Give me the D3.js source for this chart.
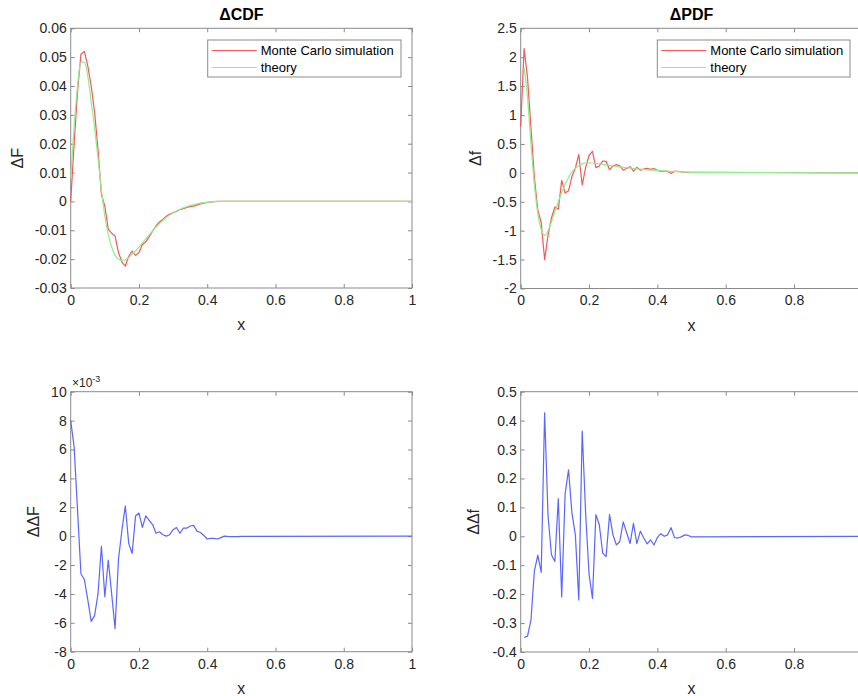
<!DOCTYPE html>
<html>
<head>
<meta charset="utf-8">
<script src="https://cdn.jsdelivr.net/npm/d3@7"></script>
<style>
body { margin: 0; background: #fff; }
svg { display: block; font-family: "Liberation Sans", Arial, Helvetica, sans-serif; }
</style>
</head>
<body>
<svg id="chart" width="858" height="696"></svg>
<script>
// Delta CDF / PDF -- Monte Carlo vs theory, 2x2 panels

// x grid: 0 .. 0.5 in steps of 0.01, then the flat tail out to 1
var xs = [0, 0.01, 0.02, 0.03, 0.04, 0.05, 0.06, 0.07, 0.08, 0.09,
  0.10, 0.11, 0.12, 0.13, 0.14, 0.15, 0.16, 0.17, 0.18, 0.19,
  0.20, 0.21, 0.22, 0.23, 0.24, 0.25, 0.26, 0.27, 0.28, 0.29,
  0.30, 0.31, 0.32, 0.33, 0.34, 0.35, 0.36, 0.37, 0.38, 0.39,
  0.40, 0.41, 0.42, 0.43, 0.44, 0.45, 0.46, 0.47, 0.48, 0.49,
  0.50, 1.0];

var mcCdf = [0, 0.020, 0.038, 0.051, 0.052, 0.047, 0.040, 0.031, 0.018, 0.0024,
  -0.0016, -0.0097, -0.0110, -0.0120, -0.0177, -0.0210, -0.0224, -0.0190, -0.0172, -0.0187,
  -0.0177, -0.0149, -0.0140, -0.0122, -0.0103, -0.0085, -0.0071, -0.0062, -0.0051, -0.0044,
  -0.0039, -0.0035, -0.0028, -0.0025, -0.0021, -0.0018, -0.0016, -0.0013, -0.0009, -0.0006,
  -0.0003, -0.0002, -0.0001, 0, 0, 0, 0, 0, 0, 0,
  0, 0];

var theoryCdf = [0.008, 0.026, 0.040, 0.0483, 0.0483, 0.0435, 0.0345, 0.0255, 0.0150, 0.0040,
  -0.0050, -0.0115, -0.0158, -0.0186, -0.0200, -0.0205, -0.0202, -0.0194, -0.0183, -0.0171,
  -0.0158, -0.0144, -0.0130, -0.0116, -0.0102, -0.0089, -0.0077, -0.0066, -0.0056, -0.0047,
  -0.0040, -0.0033, -0.0027, -0.0022, -0.0018, -0.0014, -0.0011, -0.0008, -0.0006, -0.0004,
  -0.0003, -0.0002, -0.0001, -0.00005, 0, 0, 0, 0, 0, 0,
  0, 0];

var ddCdf = [0.0080, 0.0062, 0.0018, -0.0026, -0.0030, -0.0044, -0.0059, -0.0055, -0.0040, -0.0007,
  -0.0042, -0.00165, -0.0040, -0.0064, -0.0016, 0.0004, 0.0021, -0.0005, -0.0012, 0.0014,
  0.0016, 0.0006, 0.0014, 0.0011, 0.0008, 0.0002, 0.0003, 0.0001, 0.0000, 0.0001,
  0.00045, 0.0006, 0.0002, 0.00055, 0.00055, 0.0007, 0.00075, 0.00035, 0.00025, 0.00005,
  -0.0002, -0.00015, -0.00015, -0.0002, -0.0001, 0, -0.00002, -0.00003, -0.00003, -0.00003,
  -0.00002, 0];

var mcPdf = [0.80, 2.15, 1.64, 0.79, -0.08, -0.64, -0.86, -1.50, -1.08, -0.78,
  -0.59, -0.63, -0.13, -0.35, -0.31, -0.06, 0.08, 0.32, -0.21, 0.09,
  0.30, 0.37, 0.09, 0.12, 0.205, 0.20, 0.055, 0.116, 0.142, 0.122,
  0.046, 0.076, 0.107, 0.030, 0.094, 0.045, 0.064, 0.079, 0.060, 0.074,
  0.044, 0.027, 0.032, 0.024, -0.010, 0.027, 0.026, 0.019, 0.009, 0.008,
  0.010, 0];

// theory and its difference have no value at x = 0
var theoryPdf = [null, 1.82, 1.30, 0.50, -0.20, -0.70, -0.98, -1.08, -1.00, -0.85,
  -0.68, -0.50, -0.34, -0.20, -0.08, 0.02, 0.08, 0.125, 0.155, 0.168,
  0.172, 0.170, 0.165, 0.157, 0.148, 0.139, 0.130, 0.121, 0.112, 0.104,
  0.096, 0.089, 0.082, 0.075, 0.069, 0.063, 0.058, 0.053, 0.048, 0.044,
  0.040, 0.036, 0.032, 0.029, 0.026, 0.023, 0.020, 0.017, 0.014, 0.011,
  0.008, 0];

var ddPdf = [null, -0.35, -0.345, -0.29, -0.12, -0.065, -0.125, 0.427, 0.07, -0.064,
  -0.087, 0.13, -0.21, 0.147, 0.23, 0.08, 0.005, -0.22, 0.364, 0.08,
  -0.13, -0.215, 0.075, 0.04, -0.058, -0.07, 0.075, 0.005, -0.03, -0.018,
  0.05, 0.013, -0.025, 0.045, -0.025, 0.018, -0.006, -0.026, -0.012, -0.03,
  -0.004, 0.009, 0, 0.005, 0.03, -0.004, -0.006, -0.002, 0.005, 0.003,
  -0.002, 0];

var xTicks = [0, 0.2, 0.4, 0.6, 0.8, 1];
var cdfTicks = [-0.03, -0.02, -0.01, 0, 0.01, 0.02, 0.03, 0.04, 0.05, 0.06];
var pdfTicks = [-2, -1.5, -1, -0.5, 0, 0.5, 1, 1.5, 2, 2.5];
var ddCdfTicks = [-0.008, -0.006, -0.004, -0.002, 0, 0.002, 0.004, 0.006, 0.008, 0.01];
var ddPdfTicks = [-0.4, -0.3, -0.2, -0.1, 0, 0.1, 0.2, 0.3, 0.4, 0.5];

var legendNames = ["Monte Carlo simulation", "theory"];

///////////////////////////////////////////////////////////////////////////////
// Styles

var WIDTH = 858;
var RED = "#f25858";
var GREEN = "#90ee8c";
var BLUE = "#5a66ff";
var BOX = "#8a8a8a";
var INK = "#262626";

var svg = d3.select("#chart");

var plain = function (v) { return String(Math.round(v * 1e4) / 1e4); };
var milli = function (v) { return String(Math.round(v * 1e3)); };

var pairs = function (ys) {
  return xs.map(function (x, i) { return [x, ys[i]]; });
};

///////////////////////////////////////////////////////////////////////////////
// One axes box

var drawPanel = function (p) {
  var x = d3.scaleLinear().domain([0, 1]).range([p.left, p.right]);
  var y = d3.scaleLinear().domain(p.yDomain).range([p.bottom, p.top]);
  var g = svg.append("g");

  var styleAxis = function (a, labels) {
    a.select(".domain").remove();
    a.selectAll(".tick line").attr("stroke", BOX);
    a.attr("font-family", null).attr("font-size", 14);
    a.selectAll(".tick text").attr("fill", INK);
    if (!labels) a.selectAll(".tick text").remove();
  };

  // ticks on all four sides point inward; only bottom and left carry labels
  var bottom = g.append("g").attr("transform", "translate(0," + p.bottom + ")")
    .call(d3.axisBottom(x).tickValues(xTicks).tickSize(-4).tickPadding(7).tickFormat(plain))
    .call(styleAxis, true);
  // the right-hand panels run past the picture edge: drop labels that would be cut
  bottom.selectAll(".tick")
    .filter(function (d) { return x(d) > WIDTH - 4; })
    .select("text").remove();

  g.append("g").attr("transform", "translate(0," + p.top + ")")
    .call(d3.axisTop(x).tickValues(xTicks).tickSize(-4))
    .call(styleAxis, false);
  g.append("g").attr("transform", "translate(" + p.left + ",0)")
    .call(d3.axisLeft(y).tickValues(p.yTicks).tickSize(-4).tickPadding(4).tickFormat(p.fmt))
    .call(styleAxis, true);
  g.append("g").attr("transform", "translate(" + p.right + ",0)")
    .call(d3.axisRight(y).tickValues(p.yTicks).tickSize(-4))
    .call(styleAxis, false);

  g.append("rect")
    .attr("x", p.left).attr("y", p.top)
    .attr("width", p.right - p.left).attr("height", p.bottom - p.top)
    .attr("fill", "none").attr("stroke", BOX).attr("stroke-width", 1);

  p.series.forEach(function (s) {
    var line = d3.line()
      .defined(function (d) { return d[1] !== null; })
      .x(function (d) { return x(d[0]); })
      .y(function (d) { return y(d[1]); })
      .curve(s.smooth ? d3.curveMonotoneX : d3.curveLinear);
    g.append("path")
      .datum(pairs(s.values))
      .attr("d", line)
      .attr("fill", "none")
      .attr("stroke", s.color)
      .attr("stroke-width", 1.2)
      .attr("stroke-linejoin", "round");
  });

  // labels
  var cx = (p.left + p.right) / 2;
  var cy = (p.top + p.bottom) / 2;
  if (p.title)
    g.append("text").attr("x", cx).attr("y", p.top - 8)
      .attr("text-anchor", "middle").attr("font-size", 16).attr("font-weight", "bold")
      .attr("fill", "#000").text(p.title);
  g.append("text").attr("x", cx).attr("y", p.bottom + 42)
    .attr("text-anchor", "middle").attr("font-size", 16).attr("fill", INK).text("x");
  g.append("text")
    .attr("transform", "translate(" + p.yLabelX + "," + cy + ") rotate(-90)")
    .attr("text-anchor", "middle").attr("font-size", 16).attr("fill", INK).text(p.yLabel);

  if (p.legend) drawLegend(g, p.legend);
};

var drawLegend = function (g, L) {
  g.append("rect")
    .attr("x", L.x).attr("y", L.y).attr("width", L.w).attr("height", 37)
    .attr("fill", "#fff").attr("stroke", BOX).attr("stroke-width", 1);
  legendNames.forEach(function (name, i) {
    var yy = L.y + 10.5 + i * 17;
    g.append("line")
      .attr("x1", L.x + 4).attr("x2", L.x + 49).attr("y1", yy).attr("y2", yy)
      .attr("stroke", i === 0 ? RED : GREEN).attr("stroke-width", 1.2);
    g.append("text").attr("x", L.x + 53).attr("y", yy + 4.5)
      .attr("font-size", 13).attr("fill", "#000").text(name);
  });
};

///////////////////////////////////////////////////////////////////////////////
// The four panels

drawPanel({
  left: 70.7, right: 412, top: 28.3, bottom: 288,
  yDomain: [-0.03, 0.06], yTicks: cdfTicks, fmt: plain,
  title: "\u0394CDF", yLabel: "\u0394F", yLabelX: 23,
  series: [{values: mcCdf, color: RED}, {values: theoryCdf, color: GREEN, smooth: true}],
  legend: {x: 207.7, y: 40, w: 193.3}
});

drawPanel({
  left: 520.7, right: 862.4, top: 28.3, bottom: 288.5,
  yDomain: [-2, 2.5], yTicks: pdfTicks, fmt: plain,
  title: "\u0394PDF", yLabel: "\u0394f", yLabelX: 481,
  series: [{values: mcPdf, color: RED}, {values: theoryPdf, color: GREEN, smooth: true}],
  legend: {x: 657.3, y: 40, w: 192.7}
});

drawPanel({
  left: 70.7, right: 412, top: 391.7, bottom: 651.7,
  yDomain: [-0.008, 0.01], yTicks: ddCdfTicks, fmt: milli,
  yLabel: "\u0394\u0394F", yLabelX: 39,
  series: [{values: ddCdf, color: BLUE}]
});

drawPanel({
  left: 520.7, right: 862.4, top: 391.7, bottom: 652,
  yDomain: [-0.4, 0.5], yTicks: ddPdfTicks, fmt: plain,
  yLabel: "\u0394\u0394f", yLabelX: 479,
  series: [{values: ddPdf, color: BLUE}]
});

// exponent note for the x10^-3 axis
var expo = svg.append("text").attr("x", 72).attr("y", 387)
  .attr("font-size", 12).attr("fill", INK);
expo.append("tspan").text("\u00d710");
expo.append("tspan").attr("dy", -5).attr("font-size", 9).text("-3");
</script>
</body>
</html>
